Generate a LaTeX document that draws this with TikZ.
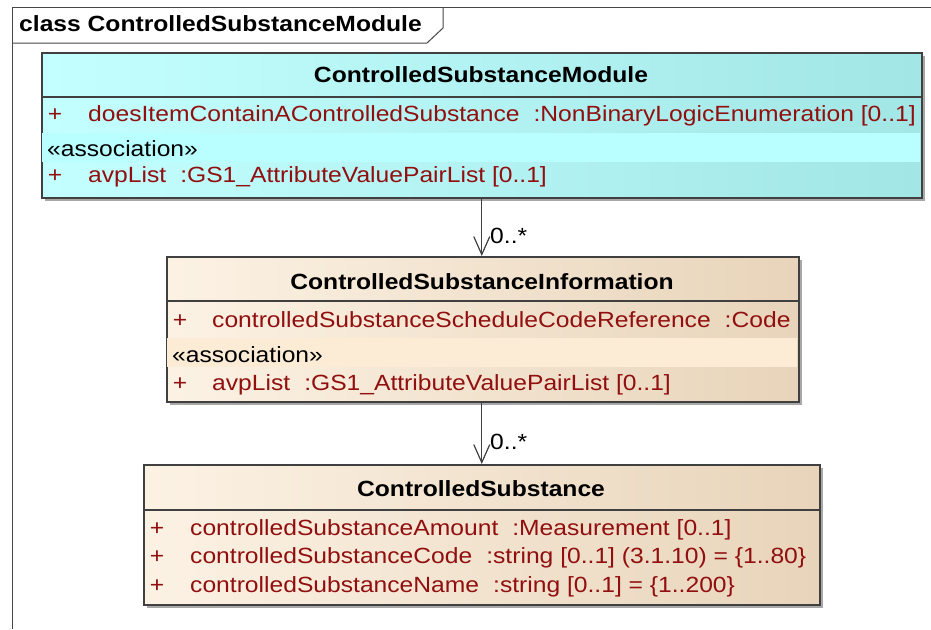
\documentclass[tikz,border=0pt]{standalone}
\usepackage{fontspec}
\setmainfont{Liberation Sans}[FakeStretch=1.12]
\usetikzlibrary{arrows.meta,calc}
\definecolor{attrc}{RGB}{145,15,15}
\definecolor{lineg}{RGB}{64,64,64}
\definecolor{framec}{RGB}{70,70,70}
\definecolor{cyanL}{RGB}{196,255,255}
\definecolor{cyanR}{RGB}{162,230,230}
\definecolor{cyanBand}{RGB}{186,255,255}
\definecolor{begL}{RGB}{252,242,228}
\definecolor{begR}{RGB}{232,212,186}
\definecolor{begBand}{RGB}{252,236,214}
\definecolor{shad}{RGB}{168,168,168}
\begin{document}
\begin{tikzpicture}[x=1pt,y=-1pt,
  font=\fontsize{22}{26}\selectfont,
  classbox/.style={draw=lineg, line width=1.5pt, anchor=north west, inner sep=0pt},
  cyanbox/.style={classbox, left color=cyanL, right color=cyanR},
  beigebox/.style={classbox, left color=begL, right color=begR},
  ttl/.style={font=\fontsize{22}{26}\selectfont\bfseries, anchor=base, inner sep=0pt},
  attr/.style={text=attrc, anchor=base west, inner sep=0pt},
  plus/.style={text=attrc, anchor=base, inner sep=0pt},
  stereo/.style={anchor=base west, inner sep=0pt},
  sep/.style={draw=lineg, line width=1.2pt},
  assoc/.style={draw=lineg, line width=1.2pt, -{Straight Barb[length=18pt,width=16pt,line width=1.2pt]}},
  mult/.style={anchor=base west, inner sep=0pt},
  frameline/.style={draw=framec, line width=1pt}
]
\useasboundingbox (0,0) rectangle (931,629);
\fill[white] (0,0) rectangle (931,629);

% frame
\draw[frameline] (12,629) -- (12,7) -- (931,7);
\draw[frameline] (12,43) -- (427,43) -- (443,28) -- (443,7);
\node[font=\fontsize{22}{26}\selectfont\bfseries, anchor=base west, inner sep=0pt] (frametitle) at (19,31) {class ControlledSubstanceModule};

% shadows
\fill[shad] (45,56) rectangle (925,201);
\fill[shad] (170,260) rectangle (802,405);
\fill[shad] (147,468) rectangle (823,608);

% box 1
\node[cyanbox, minimum width=880pt, minimum height=145pt] (m) at (41,52) {};
\fill[cyanBand] (42,133) rectangle (920,162);
\draw[sep] (41,97) -- (921,97);
\node[ttl] (mt) at (481,82) {ControlledSubstanceModule};
\node[plus] (mp1) at (55,121) {+};
\node[attr] (ma1) at (88,121) {doesItemContainAControlledSubstance\hspace{14pt}:NonBinaryLogicEnumeration [0..1]};
\node[stereo] (ms) at (47,156) {«association»};
\node[plus] (mp2) at (55,182) {+};
\node[attr] (ma2) at (88,182) {avpList\hspace{14pt}:GS1\_AttributeValuePairList [0..1]};

% box 2
\node[beigebox, minimum width=632pt, minimum height=145pt] (i) at (166,256) {};
\fill[begBand] (167,338) rectangle (797,367);
\draw[sep] (166,301) -- (798,301);
\node[ttl] (it) at (482,289) {ControlledSubstanceInformation};
\node[plus] (ip1) at (180,327) {+};
\node[attr] (ia1) at (212,327) {controlledSubstanceScheduleCodeReference\hspace{14pt}:Code};
\node[stereo] (is) at (172,362) {«association»};
\node[plus] (ip2) at (180,390) {+};
\node[attr] (ia2) at (212,390) {avpList\hspace{14pt}:GS1\_AttributeValuePairList [0..1]};

% box 3
\node[beigebox, minimum width=676pt, minimum height=140pt] (s) at (143,464) {};
\draw[sep] (143,510) -- (819,510);
\node[ttl] (st) at (481,496) {ControlledSubstance};
\node[plus] (sp1) at (157,535) {+};
\node[attr] (sa1) at (190,535) {controlledSubstanceAmount\hspace{14pt}:Measurement [0..1]};
\node[plus] (sp2) at (157,563) {+};
\node[attr] (sa2) at (190,563) {controlledSubstanceCode\hspace{14pt}:string [0..1] (3.1.10) = \{1..80\}};
\node[plus] (sp3) at (157,592) {+};
\node[attr] (sa3) at (190,592) {controlledSubstanceName\hspace{14pt}:string [0..1] = \{1..200\}};

% associations
\draw[assoc] (m.south) -- (m.south |- i.north);
\node[mult] (l1) at (490,243) {0..*};
\draw[assoc] (i.south -| m.south) -- (m.south |- s.north);
\node[mult] (l2) at (490,449) {0..*};
\end{tikzpicture}
\end{document}
